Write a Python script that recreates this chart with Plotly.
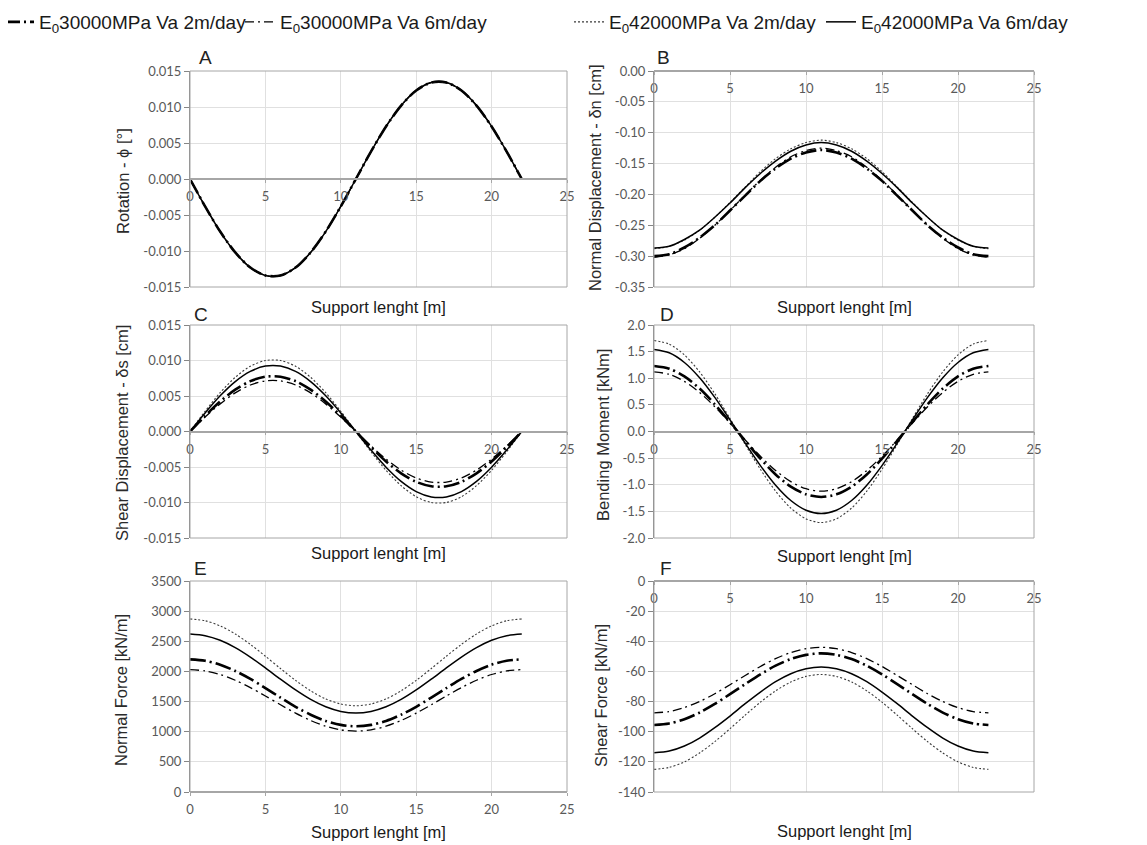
import plotly.graph_objects as go

# ---------------- data ----------------
support_x = [0, 1, 2, 3, 4, 5, 6, 7, 8, 9, 10, 11, 12, 13, 14, 15, 16, 17, 18, 19, 20, 21, 22]

series_names = [
    "E<sub>0</sub>30000MPa Va 2m/day",
    "E<sub>0</sub>30000MPa Va 6m/day",
    "E<sub>0</sub>42000MPa Va 2m/day",
    "E<sub>0</sub>42000MPa Va 6m/day",
]

# A - Rotation (all four curves coincide)
rot_e30_v2 = [0, -0.0038, -0.0073, -0.0102, -0.0123, -0.0134, -0.0134, -0.0123, -0.0102, -0.0073, -0.0038, 0,
              0.0038, 0.0073, 0.0102, 0.0123, 0.0134, 0.0134, 0.0123, 0.0102, 0.0073, 0.0038, 0]
rot_e30_v6 = [0, -0.0038, -0.0073, -0.0102, -0.0123, -0.0134, -0.0134, -0.0123, -0.0102, -0.0073, -0.0038, 0,
              0.0038, 0.0073, 0.0102, 0.0123, 0.0134, 0.0134, 0.0123, 0.0102, 0.0073, 0.0038, 0]
rot_e42_v2 = [0, -0.0038, -0.0073, -0.0102, -0.0123, -0.0134, -0.0134, -0.0123, -0.0102, -0.0073, -0.0038, 0,
              0.0038, 0.0073, 0.0102, 0.0123, 0.0134, 0.0134, 0.0123, 0.0102, 0.0073, 0.0038, 0]
rot_e42_v6 = [0, -0.0038, -0.0073, -0.0102, -0.0123, -0.0134, -0.0134, -0.0123, -0.0102, -0.0073, -0.0038, 0,
              0.0038, 0.0073, 0.0102, 0.0123, 0.0134, 0.0134, 0.0123, 0.0102, 0.0073, 0.0038, 0]

# B - Normal displacement [cm]
nd_e30_v2 = [-0.300, -0.297, -0.286, -0.270, -0.250, -0.226, -0.202, -0.178, -0.158, -0.142, -0.132, -0.128,
             -0.132, -0.142, -0.158, -0.178, -0.202, -0.226, -0.250, -0.270, -0.286, -0.297, -0.300]
nd_e30_v6 = [-0.302, -0.298, -0.288, -0.271, -0.250, -0.226, -0.201, -0.177, -0.156, -0.139, -0.129, -0.125,
             -0.129, -0.139, -0.156, -0.177, -0.201, -0.226, -0.250, -0.271, -0.288, -0.298, -0.302]
nd_e42_v2 = [-0.288, -0.284, -0.274, -0.258, -0.237, -0.213, -0.188, -0.163, -0.142, -0.126, -0.116, -0.112,
             -0.116, -0.126, -0.142, -0.163, -0.188, -0.213, -0.237, -0.258, -0.274, -0.284, -0.288]
nd_e42_v6 = [-0.287, -0.284, -0.273, -0.258, -0.237, -0.214, -0.189, -0.166, -0.146, -0.130, -0.120, -0.116,
             -0.120, -0.130, -0.146, -0.166, -0.189, -0.214, -0.237, -0.258, -0.273, -0.284, -0.287]

# C - Shear displacement [cm]
sd_e30_v2 = [0, 0.00220, 0.00422, 0.00589, 0.00709, 0.00772, 0.00772, 0.00709, 0.00589, 0.00422, 0.00220, 0,
             -0.00220, -0.00422, -0.00589, -0.00709, -0.00772, -0.00772, -0.00709, -0.00589, -0.00422, -0.00220, 0]
sd_e30_v6 = [0, 0.00203, 0.00389, 0.00544, 0.00655, 0.00713, 0.00713, 0.00655, 0.00544, 0.00389, 0.00203, 0,
             -0.00203, -0.00389, -0.00544, -0.00655, -0.00713, -0.00713, -0.00655, -0.00544, -0.00389, -0.00203, 0]
sd_e42_v2 = [0, 0.00285, 0.00546, 0.00763, 0.00919, 0.01000, 0.01000, 0.00919, 0.00763, 0.00546, 0.00285, 0,
             -0.00285, -0.00546, -0.00763, -0.00919, -0.01000, -0.01000, -0.00919, -0.00763, -0.00546, -0.00285, 0]
sd_e42_v6 = [0, 0.00262, 0.00503, 0.00703, 0.00846, 0.00921, 0.00921, 0.00846, 0.00703, 0.00503, 0.00262, 0,
             -0.00262, -0.00503, -0.00703, -0.00846, -0.00921, -0.00921, -0.00846, -0.00703, -0.00503, -0.00262, 0]

# D - Bending moment [kNm]
bm_e30_v2 = [1.23, 1.180, 1.035, 0.806, 0.511, 0.175, -0.175, -0.511, -0.806, -1.035, -1.180, -1.23,
             -1.180, -1.035, -0.806, -0.511, -0.175, 0.175, 0.511, 0.806, 1.035, 1.180, 1.23]
bm_e30_v6 = [1.12, 1.075, 0.942, 0.733, 0.465, 0.159, -0.159, -0.465, -0.733, -0.942, -1.075, -1.12,
             -1.075, -0.942, -0.733, -0.465, -0.159, 0.159, 0.465, 0.733, 0.942, 1.075, 1.12]
bm_e42_v2 = [1.71, 1.641, 1.439, 1.120, 0.710, 0.243, -0.243, -0.710, -1.120, -1.439, -1.641, -1.71,
             -1.641, -1.439, -1.120, -0.710, -0.243, 0.243, 0.710, 1.120, 1.439, 1.641, 1.71]
bm_e42_v6 = [1.54, 1.478, 1.296, 1.009, 0.640, 0.219, -0.219, -0.640, -1.009, -1.296, -1.478, -1.54,
             -1.478, -1.296, -1.009, -0.640, -0.219, 0.219, 0.640, 1.009, 1.296, 1.478, 1.54]

# E - Normal force [kN/m]
nf_e30_v2 = [2200, 2177, 2112, 2008, 1876, 1724, 1566, 1414, 1282, 1178, 1113, 1090,
             1113, 1178, 1282, 1414, 1566, 1724, 1876, 2008, 2112, 2177, 2200]
nf_e30_v6 = [2030, 2009, 1949, 1854, 1732, 1593, 1447, 1308, 1186, 1091, 1031, 1010,
             1031, 1091, 1186, 1308, 1447, 1593, 1732, 1854, 1949, 2009, 2030]
nf_e42_v2 = [2870, 2841, 2756, 2621, 2449, 2252, 2048, 1851, 1679, 1544, 1459, 1430,
             1459, 1544, 1679, 1851, 2048, 2252, 2449, 2621, 2756, 2841, 2870]
nf_e42_v6 = [2620, 2593, 2516, 2394, 2237, 2058, 1872, 1693, 1536, 1414, 1337, 1310,
             1337, 1414, 1536, 1693, 1872, 2058, 2237, 2394, 2516, 2593, 2620]

# F - Shear force [kN/m]
sf_e30_v2 = [-95.5, -94.5, -91.7, -87.3, -81.6, -75.1, -68.4, -61.9, -56.2, -51.8, -49.0, -48.0,
             -49.0, -51.8, -56.2, -61.9, -68.4, -75.1, -81.6, -87.3, -91.7, -94.5, -95.5]
sf_e30_v6 = [-87.5, -86.6, -84.0, -80.0, -74.8, -68.8, -62.7, -56.7, -51.5, -47.5, -44.9, -44.0,
             -44.9, -47.5, -51.5, -56.7, -62.7, -68.8, -74.8, -80.0, -84.0, -86.6, -87.5]
sf_e42_v2 = [-125.0, -123.7, -120.0, -114.1, -106.6, -98.0, -89.0, -80.4, -72.9, -67.0, -63.3, -62.0,
             -63.3, -67.0, -72.9, -80.4, -89.0, -98.0, -106.6, -114.1, -120.0, -123.7, -125.0]
sf_e42_v6 = [-114.0, -112.8, -109.5, -104.2, -97.3, -89.6, -81.4, -73.7, -66.8, -61.5, -58.2, -57.0,
             -58.2, -61.5, -66.8, -73.7, -81.4, -89.6, -97.3, -104.2, -109.5, -112.8, -114.0]

# tick labels
x_tickvals = [0, 5, 10, 15, 20, 25]
x_ticktext = ["0", "5", "10", "15", "20", "25"]
rot_tickvals = [-0.015, -0.010, -0.005, 0.0, 0.005, 0.010, 0.015]
rot_ticktext = ["-0.015", "-0.010", "-0.005", "0.000", "0.005", "0.010", "0.015"]
nd_tickvals = [-0.35, -0.30, -0.25, -0.20, -0.15, -0.10, -0.05, 0.0]
nd_ticktext = ["-0.35", "-0.30", "-0.25", "-0.20", "-0.15", "-0.10", "-0.05", "0.00"]
sd_tickvals = [-0.015, -0.010, -0.005, 0.0, 0.005, 0.010, 0.015]
sd_ticktext = ["-0.015", "-0.010", "-0.005", "0.000", "0.005", "0.010", "0.015"]
bm_tickvals = [-2.0, -1.5, -1.0, -0.5, 0.0, 0.5, 1.0, 1.5, 2.0]
bm_ticktext = ["-2.0", "-1.5", "-1.0", "-0.5", "0.0", "0.5", "1.0", "1.5", "2.0"]
nf_tickvals = [0, 500, 1000, 1500, 2000, 2500, 3000, 3500]
nf_ticktext = ["0", "500", "1000", "1500", "2000", "2500", "3000", "3500"]
sf_tickvals = [-140, -120, -100, -80, -60, -40, -20, 0]
sf_ticktext = ["-140", "-120", "-100", "-80", "-60", "-40", "-20", "0"]

# ---------------- layout helpers ----------------
PAGE_OFF = 8            # default body margin of the html page
W, H = 1147 - PAGE_OFF, 845 - PAGE_OFF


def fx(p):
    return (p - PAGE_OFF) / W


def fy(p):
    return 1 - (p - PAGE_OFF) / H


panels = [
    dict(letter="A", data=[rot_e30_v2, rot_e30_v6, rot_e42_v2, rot_e42_v6], yr=[-0.015, 0.015],
         tv=rot_tickvals, tt=rot_ticktext, ytitle="Rotation - ϕ [°]",
         px=(190, 567), py=(71, 287), letter_pos=(205, 57), ytitle_pos=(123, 181), xtitle_y=307),
    dict(letter="B", data=[nd_e30_v2, nd_e30_v6, nd_e42_v2, nd_e42_v6], yr=[-0.35, 0.0],
         tv=nd_tickvals, tt=nd_ticktext, ytitle="Normal Displacement - δn [cm]",
         px=(654, 1034), py=(71, 287), letter_pos=(663, 57), ytitle_pos=(595, 178), xtitle_y=307),
    dict(letter="C", data=[sd_e30_v2, sd_e30_v6, sd_e42_v2, sd_e42_v6], yr=[-0.015, 0.015],
         tv=sd_tickvals, tt=sd_ticktext, ytitle="Shear Displacement - δs [cm]",
         px=(190, 567), py=(325, 538), letter_pos=(201, 315), ytitle_pos=(122, 433), xtitle_y=553),
    dict(letter="D", data=[bm_e30_v2, bm_e30_v6, bm_e42_v2, bm_e42_v6], yr=[-2.0, 2.0],
         tv=bm_tickvals, tt=bm_ticktext, ytitle="Bending Moment [kNm]",
         px=(654, 1034), py=(325, 538), letter_pos=(667, 315), ytitle_pos=(603, 435), xtitle_y=556),
    dict(letter="E", data=[nf_e30_v2, nf_e30_v6, nf_e42_v2, nf_e42_v6], yr=[0, 3500],
         tv=nf_tickvals, tt=nf_ticktext, ytitle="Normal Force [kN/m]",
         px=(190, 567), py=(581, 792), letter_pos=(200, 568), ytitle_pos=(121, 690), xtitle_y=832),
    dict(letter="F", data=[sf_e30_v2, sf_e30_v6, sf_e42_v2, sf_e42_v6], yr=[-140, 0],
         tv=sf_tickvals, tt=sf_ticktext, ytitle="Shear Force [kN/m]",
         px=(654, 1034), py=(581, 792), letter_pos=(666, 568), ytitle_pos=(601, 696), xtitle_y=831),
]

styles = [
    dict(color="black", width=2.6, dash="16px,4px,2px,4px"),
    dict(color="black", width=1.3, dash="9px,4px,2px,4px"),
    dict(color="#3a3a3a", width=1.1, dash="2px,2px"),
    dict(color="black", width=1.5, dash="solid"),
]
legend_keys = ["legend", "legend2", "legend3", "legend4"]
legend_x_page = [-1, 240, 569, 821]     # page pixels of each legend box's left edge

TEXT_FONT = "Arial, Liberation Sans, sans-serif"
TICK_FONT = dict(family="Lato, Carlito, sans-serif", size=13, color="#595959")

fig = go.Figure()
layout = dict(
    width=W, height=H,
    margin=dict(l=0, r=0, t=0, b=0, autoexpand=False),
    paper_bgcolor="white", plot_bgcolor="white",
    font=dict(family=TEXT_FONT, color="#222222"),
    annotations=[], shapes=[],
)

for i, p in enumerate(panels):
    n = i + 1
    xa = "x" if n == 1 else f"x{n}"
    ya = "y" if n == 1 else f"y{n}"
    xkey = "xaxis" if n == 1 else f"xaxis{n}"
    ykey = "yaxis" if n == 1 else f"yaxis{n}"
    for s, (vals, st) in enumerate(zip(p["data"], styles)):
        fig.add_trace(go.Scatter(
            x=support_x, y=vals, mode="lines", xaxis=xa, yaxis=ya,
            name=series_names[s], line=dict(color=st["color"], width=st["width"], dash=st["dash"],
                                            shape="spline", smoothing=0.8),
            showlegend=(n == 1), legend=legend_keys[s], hoverinfo="skip",
        ))
    y0d, y1d = fy(p["py"][1]), fy(p["py"][0])
    ymin, ymax = p["yr"]
    zero_pos = y0d + (0 - ymin) / (ymax - ymin) * (y1d - y0d)
    layout[xkey] = dict(
        domain=[fx(p["px"][0]), fx(p["px"][1])], range=[0, 25],
        anchor="free", position=zero_pos,
        tickmode="array", tickvals=x_tickvals, ticktext=x_ticktext,
        showline=True, linecolor="#a6a6a6", linewidth=1.5,
        ticks="outside", ticklen=3, tickcolor="#a6a6a6",
        showgrid=True, gridcolor="#e0e0e0", gridwidth=1, zeroline=False,
        tickfont=TICK_FONT, ticklabelstandoff=3, fixedrange=True, automargin=False,
    )
    layout[ykey] = dict(
        domain=[y0d, y1d], range=p["yr"], anchor=xa,
        tickmode="array", tickvals=p["tv"], ticktext=p["tt"],
        showline=True, linecolor="#868686", linewidth=1,
        ticks="outside", ticklen=5, tickcolor="#868686",
        showgrid=True, gridcolor="#e0e0e0", gridwidth=1, zeroline=False,
        tickfont=TICK_FONT, fixedrange=True, automargin=False,
    )
    # plot-area border
    layout["shapes"].append(dict(
        type="rect", xref=f"{xa} domain", yref=f"{ya} domain", x0=0, x1=1, y0=0, y1=1,
        line=dict(color="#a6a6a6", width=1), layer="above",
    ))
    # panel letter
    layout["annotations"].append(dict(
        text=p["letter"], x=fx(p["letter_pos"][0]), y=fy(p["letter_pos"][1]),
        xref="paper", yref="paper", showarrow=False, xanchor="center", yanchor="middle",
        font=dict(size=19, family=TEXT_FONT, color="#222222"),
    ))
    # x-axis title
    layout["annotations"].append(dict(
        text="Support lenght [m]", x=fx((p["px"][0] + p["px"][1]) / 2), y=fy(p["xtitle_y"]),
        xref="paper", yref="paper", showarrow=False, xanchor="center", yanchor="middle",
        font=dict(size=16.5, family=TEXT_FONT, color="#1a1a1a"),
    ))
    # y-axis title
    layout["annotations"].append(dict(
        text=p["ytitle"], x=fx(p["ytitle_pos"][0]), y=fy(p["ytitle_pos"][1]),
        xref="paper", yref="paper", showarrow=False, xanchor="center", yanchor="middle",
        textangle=-90, font=dict(size=16.5, family=TEXT_FONT, color="#2a2a2a"),
    ))

for key, lx in zip(legend_keys, legend_x_page):
    layout[key] = dict(
        x=fx(lx), y=fy(22), xanchor="left", yanchor="middle", orientation="h",
        font=dict(size=19, family=TEXT_FONT, color="#1a1a1a"),
        bgcolor="rgba(0,0,0,0)", borderwidth=0, itemwidth=30,
    )

fig.update_layout(**layout)
fig.write_html("out.html")
